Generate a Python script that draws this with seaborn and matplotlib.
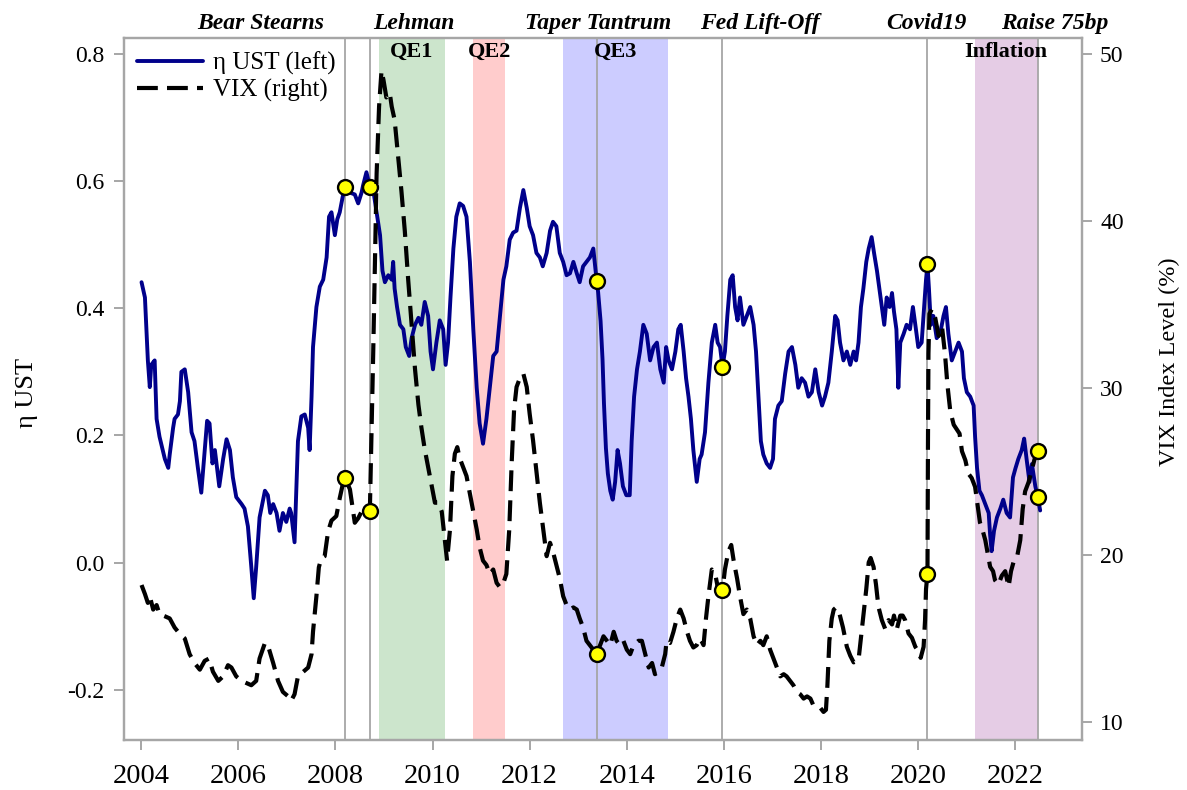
import matplotlib
matplotlib.use('Agg')
import matplotlib.pyplot as plt
import matplotlib.transforms as mtransforms
from matplotlib.lines import Line2D
import seaborn as sns

# eta UST (left axis)
ust_t = [2004.01, 2004.08, 2004.14, 2004.18, 2004.21, 2004.28, 2004.32, 2004.38, 2004.49, 2004.56,
         2004.59, 2004.66, 2004.69, 2004.76, 2004.80, 2004.83, 2004.90, 2004.97, 2005.04, 2005.10,
         2005.17, 2005.24, 2005.31, 2005.36, 2005.41, 2005.47, 2005.52, 2005.61, 2005.69, 2005.76,
         2005.83, 2005.89, 2005.96, 2006.07, 2006.13, 2006.20, 2006.27, 2006.32, 2006.37, 2006.44,
         2006.55, 2006.61, 2006.66, 2006.72, 2006.79, 2006.85, 2006.92, 2006.99, 2007.06, 2007.09,
         2007.16, 2007.20, 2007.23, 2007.30, 2007.37, 2007.44, 2007.47, 2007.51, 2007.54, 2007.61,
         2007.68, 2007.75, 2007.82, 2007.87, 2007.92, 2007.99, 2008.04, 2008.09, 2008.15, 2008.20,
         2008.30, 2008.40, 2008.47, 2008.54, 2008.57, 2008.64, 2008.71, 2008.78, 2008.85, 2008.92,
         2008.97, 2009.02, 2009.09, 2009.16, 2009.19, 2009.22, 2009.27, 2009.33, 2009.40, 2009.45,
         2009.52, 2009.57, 2009.64, 2009.71, 2009.77, 2009.84, 2009.91, 2009.96, 2010.01, 2010.08,
         2010.15, 2010.22, 2010.27, 2010.32, 2010.37, 2010.43, 2010.49, 2010.56, 2010.63, 2010.70,
         2010.77, 2010.84, 2010.91, 2010.97, 2011.04, 2011.11, 2011.18, 2011.25, 2011.32, 2011.39,
         2011.46, 2011.52, 2011.59, 2011.66, 2011.73, 2011.80, 2011.87, 2011.94, 2012.00, 2012.07,
         2012.14, 2012.21, 2012.27, 2012.35, 2012.42, 2012.48, 2012.55, 2012.62, 2012.69, 2012.76,
         2012.83, 2012.90, 2012.97, 2013.03, 2013.10, 2013.17, 2013.24, 2013.31, 2013.38, 2013.41,
         2013.46, 2013.50, 2013.53, 2013.57, 2013.61, 2013.66, 2013.71, 2013.76, 2013.81, 2013.86,
         2013.92, 2013.99, 2014.06, 2014.10, 2014.15, 2014.21, 2014.27, 2014.34, 2014.41, 2014.48,
         2014.55, 2014.62, 2014.69, 2014.76, 2014.81, 2014.86, 2014.93, 2015.00, 2015.06, 2015.11,
         2015.17, 2015.22, 2015.27, 2015.32, 2015.37, 2015.44, 2015.50, 2015.54, 2015.61, 2015.68,
         2015.75, 2015.82, 2015.87, 2015.92, 2015.97, 2016.02, 2016.07, 2016.13, 2016.18, 2016.23,
         2016.28, 2016.33, 2016.40, 2016.47, 2016.54, 2016.61, 2016.66, 2016.71, 2016.76, 2016.81,
         2016.88, 2016.95, 2017.01, 2017.05, 2017.12, 2017.19, 2017.26, 2017.33, 2017.40, 2017.47,
         2017.53, 2017.60, 2017.67, 2017.74, 2017.81, 2017.88, 2017.95, 2018.02, 2018.08, 2018.15,
         2018.22, 2018.29, 2018.34, 2018.39, 2018.46, 2018.53, 2018.60, 2018.67, 2018.72, 2018.77,
         2018.82, 2018.87, 2018.93, 2018.98, 2019.04, 2019.09, 2019.15, 2019.20, 2019.25, 2019.30,
         2019.35, 2019.41, 2019.46, 2019.50, 2019.55, 2019.59, 2019.63, 2019.70, 2019.76, 2019.83,
         2019.89, 2019.94, 2020.00, 2020.07, 2020.12, 2020.16, 2020.19, 2020.22, 2020.26, 2020.31,
         2020.38, 2020.45, 2020.52, 2020.57, 2020.62, 2020.69, 2020.76, 2020.83, 2020.90, 2020.94,
         2021.00, 2021.07, 2021.14, 2021.17, 2021.21, 2021.26, 2021.31, 2021.38, 2021.45, 2021.48,
         2021.51, 2021.56, 2021.62, 2021.69, 2021.75, 2021.82, 2021.89, 2021.95, 2022.00, 2022.06,
         2022.13, 2022.18, 2022.23, 2022.29, 2022.34, 2022.41, 2022.46, 2022.51]
ust_v = [0.441, 0.417, 0.318, 0.276, 0.311, 0.318, 0.226, 0.198, 0.163, 0.149,
         0.170, 0.212, 0.226, 0.233, 0.254, 0.300, 0.304, 0.268, 0.205, 0.191,
         0.149, 0.110, 0.177, 0.223, 0.219, 0.156, 0.177, 0.120, 0.163, 0.194,
         0.177, 0.134, 0.103, 0.092, 0.085, 0.057, -0.007, -0.056, -0.007, 0.071,
         0.113, 0.106, 0.078, 0.092, 0.078, 0.050, 0.078, 0.064, 0.085, 0.078,
         0.032, 0.120, 0.191, 0.230, 0.233, 0.212, 0.177, 0.261, 0.339, 0.402,
         0.434, 0.445, 0.480, 0.544, 0.551, 0.515, 0.540, 0.551, 0.575, 0.591,
         0.582, 0.579, 0.565, 0.582, 0.593, 0.614, 0.591, 0.586, 0.551, 0.515,
         0.459, 0.441, 0.452, 0.445, 0.473, 0.431, 0.402, 0.374, 0.367, 0.339,
         0.325, 0.353, 0.374, 0.385, 0.374, 0.410, 0.388, 0.332, 0.304, 0.346,
         0.381, 0.367, 0.311, 0.346, 0.417, 0.494, 0.544, 0.565, 0.561, 0.544,
         0.473, 0.367, 0.275, 0.219, 0.187, 0.226, 0.275, 0.325, 0.332, 0.388,
         0.445, 0.466, 0.508, 0.519, 0.522, 0.558, 0.586, 0.558, 0.529, 0.515,
         0.487, 0.480, 0.466, 0.487, 0.522, 0.536, 0.529, 0.487, 0.473, 0.452,
         0.455, 0.473, 0.455, 0.441, 0.466, 0.473, 0.480, 0.494, 0.443, 0.425,
         0.380, 0.320, 0.250, 0.180, 0.140, 0.113, 0.099, 0.127, 0.177, 0.156,
         0.120, 0.106, 0.106, 0.191, 0.261, 0.304, 0.332, 0.374, 0.360, 0.318,
         0.339, 0.346, 0.304, 0.283, 0.339, 0.318, 0.304, 0.332, 0.367, 0.374,
         0.332, 0.290, 0.261, 0.226, 0.177, 0.127, 0.163, 0.170, 0.205, 0.283,
         0.346, 0.374, 0.346, 0.339, 0.308, 0.332, 0.388, 0.445, 0.452, 0.402,
         0.381, 0.417, 0.374, 0.388, 0.402, 0.374, 0.332, 0.261, 0.191, 0.170,
         0.156, 0.149, 0.163, 0.226, 0.247, 0.254, 0.297, 0.332, 0.339, 0.311,
         0.275, 0.290, 0.283, 0.261, 0.268, 0.304, 0.268, 0.247, 0.261, 0.283,
         0.332, 0.388, 0.381, 0.346, 0.318, 0.332, 0.311, 0.332, 0.318, 0.346,
         0.402, 0.431, 0.473, 0.494, 0.512, 0.487, 0.459, 0.431, 0.402, 0.374,
         0.417, 0.402, 0.424, 0.395, 0.367, 0.275, 0.346, 0.360, 0.374, 0.367,
         0.402, 0.374, 0.339, 0.346, 0.402, 0.445, 0.469, 0.431, 0.374, 0.388,
         0.353, 0.360, 0.388, 0.402, 0.360, 0.318, 0.332, 0.346, 0.332, 0.290,
         0.268, 0.261, 0.247, 0.198, 0.149, 0.113, 0.106, 0.092, 0.078, 0.043,
         0.018, 0.050, 0.071, 0.085, 0.099, 0.078, 0.071, 0.134, 0.148, 0.163,
         0.177, 0.195, 0.163, 0.127, 0.155, 0.120, 0.103, 0.082]

# VIX index level (right axis)
vix_t = [2004.01, 2004.08, 2004.14, 2004.18, 2004.25, 2004.32, 2004.38, 2004.49, 2004.59, 2004.69,
         2004.80, 2004.90, 2005.00, 2005.10, 2005.21, 2005.31, 2005.40, 2005.48, 2005.59, 2005.69,
         2005.79, 2005.86, 2005.96, 2006.07, 2006.17, 2006.27, 2006.37, 2006.44, 2006.55, 2006.61,
         2006.72, 2006.82, 2006.92, 2007.03, 2007.09, 2007.16, 2007.23, 2007.34, 2007.44, 2007.51,
         2007.54, 2007.61, 2007.66, 2007.71, 2007.78, 2007.85, 2007.92, 2008.02, 2008.09, 2008.15,
         2008.20, 2008.30, 2008.40, 2008.47, 2008.54, 2008.64, 2008.71, 2008.78, 2008.85, 2008.90,
         2008.95, 2008.99, 2009.05, 2009.12, 2009.16, 2009.22, 2009.29, 2009.36, 2009.43, 2009.50,
         2009.57, 2009.64, 2009.71, 2009.77, 2009.84, 2009.91, 2009.98, 2010.05, 2010.12, 2010.19,
         2010.25, 2010.30, 2010.36, 2010.41, 2010.46, 2010.51, 2010.56, 2010.63, 2010.70, 2010.77,
         2010.84, 2010.91, 2010.97, 2011.04, 2011.11, 2011.18, 2011.25, 2011.32, 2011.39, 2011.46,
         2011.52, 2011.58, 2011.63, 2011.68, 2011.73, 2011.80, 2011.87, 2011.94, 2012.00, 2012.07,
         2012.14, 2012.21, 2012.28, 2012.35, 2012.42, 2012.48, 2012.55, 2012.62, 2012.69, 2012.76,
         2012.83, 2012.90, 2012.97, 2013.03, 2013.10, 2013.17, 2013.24, 2013.31, 2013.38, 2013.52,
         2013.59, 2013.66, 2013.73, 2013.79, 2013.86, 2013.93, 2014.00, 2014.07, 2014.14, 2014.24,
         2014.31, 2014.38, 2014.45, 2014.52, 2014.58, 2014.65, 2014.72, 2014.79, 2014.82, 2014.89,
         2014.96, 2015.03, 2015.10, 2015.17, 2015.24, 2015.30, 2015.37, 2015.44, 2015.51, 2015.58,
         2015.63, 2015.68, 2015.75, 2015.82, 2015.89, 2015.97, 2016.02, 2016.09, 2016.15, 2016.20,
         2016.27, 2016.33, 2016.40, 2016.47, 2016.54, 2016.61, 2016.68, 2016.75, 2016.81, 2016.88,
         2016.95, 2017.02, 2017.09, 2017.16, 2017.23, 2017.29, 2017.36, 2017.43, 2017.50, 2017.57,
         2017.64, 2017.71, 2017.78, 2017.84, 2017.91, 2017.98, 2018.05, 2018.10, 2018.13, 2018.17,
         2018.22, 2018.26, 2018.31, 2018.38, 2018.45, 2018.53, 2018.60, 2018.67, 2018.77, 2018.82,
         2018.87, 2018.93, 2018.98, 2019.02, 2019.08, 2019.13, 2019.18, 2019.25, 2019.32, 2019.39,
         2019.46, 2019.50, 2019.56, 2019.63, 2019.68, 2019.73, 2019.80, 2019.87, 2019.94, 2020.00,
         2020.05, 2020.11, 2020.14, 2020.16, 2020.19, 2020.20, 2020.21, 2020.23, 2020.28, 2020.35,
         2020.42, 2020.49, 2020.55, 2020.60, 2020.66, 2020.73, 2020.79, 2020.85, 2020.90, 2020.97,
         2021.03, 2021.10, 2021.17, 2021.22, 2021.27, 2021.33, 2021.38, 2021.43, 2021.48, 2021.54,
         2021.58, 2021.65, 2021.72, 2021.79, 2021.86, 2021.91, 2021.96, 2022.03, 2022.10, 2022.15,
         2022.20, 2022.27, 2022.34, 2022.41, 2022.455]
vix_v = [18.19, 17.65, 17.12, 17.52, 16.72, 16.99, 16.45, 16.32, 16.19, 15.65,
         15.25, 14.99, 14.05, 13.52, 13.12, 13.65, 13.79, 13.00, 12.45, 12.72,
         13.39, 13.25, 12.72, 12.45, 12.32, 12.19, 12.45, 13.79, 14.72, 14.59,
         13.52, 12.45, 11.79, 11.52, 11.25, 11.65, 12.72, 13.00, 13.25, 14.05,
         15.39, 17.52, 19.25, 19.79, 19.92, 21.39, 22.05, 22.32, 23.39, 24.19,
         24.60, 23.92, 21.92, 22.19, 22.59, 22.40, 22.59, 32.19, 42.85, 46.85,
         48.99, 48.45, 47.39, 47.65, 46.85, 46.05, 43.92, 41.79, 39.39, 36.45,
         33.79, 31.12, 28.99, 27.65, 26.32, 25.25, 24.19, 23.12, 23.12, 22.59,
         20.99, 19.65, 21.52, 24.72, 26.05, 26.45, 25.79, 25.25, 24.72, 23.65,
         22.59, 21.52, 20.45, 19.65, 19.39, 18.85, 19.12, 18.32, 18.05, 18.32,
         18.85, 21.52, 25.52, 28.72, 30.05, 30.59, 30.85, 30.05, 28.45, 26.85,
         24.99, 23.12, 21.52, 19.92, 20.72, 20.19, 19.39, 18.59, 17.52, 16.99,
         16.72, 16.85, 16.72, 16.19, 15.65, 14.85, 14.59, 14.32, 14.05, 15.12,
         14.85, 14.59, 15.39, 14.85, 14.59, 14.85, 14.32, 14.05, 14.59, 14.85,
         14.85, 14.05, 13.25, 13.52, 12.85, 12.99, 13.25, 14.05, 14.85, 14.72,
         15.39, 16.19, 16.72, 16.19, 15.39, 14.85, 14.45, 14.59, 14.99, 14.59,
         16.19, 17.52, 19.12, 18.85, 17.79, 17.87, 19.12, 20.19, 20.59, 19.65,
         18.59, 17.52, 16.45, 16.72, 16.19, 15.12, 14.59, 14.85, 14.59, 15.12,
         14.32, 13.79, 13.25, 12.72, 12.85, 12.72, 12.45, 12.19, 11.79, 11.65,
         11.39, 11.52, 11.39, 10.99, 10.99, 10.85, 10.59, 10.72, 12.19, 14.85,
         16.19, 16.72, 16.85, 16.45, 15.65, 14.49, 13.96, 13.56, 13.69, 15.03,
         16.36, 17.95, 19.55, 19.81, 19.28, 18.22, 16.89, 16.09, 15.56, 16.09,
         15.83, 16.36, 15.56, 16.36, 16.36, 16.09, 15.29, 15.03, 14.49, 14.23,
         13.83, 14.49, 16.09, 17.95, 18.88, 26.73, 32.05, 34.44, 34.71, 34.18,
         33.11, 33.64, 32.05, 30.19, 28.59, 27.79, 27.53, 27.26, 26.20, 25.66,
         24.87, 24.60, 24.07, 23.00, 21.94, 21.41, 20.88, 20.08, 19.28, 19.02,
         18.48, 18.22, 18.75, 19.02, 18.09, 19.02, 19.55, 19.81, 20.88, 22.74,
         23.80, 24.34, 25.13, 25.90, 26.20]

# events: vertical lines and yellow markers
event_names = ['Bear Stearns', 'Lehman', 'Taper Tantrum', 'Fed Lift-Off', 'Covid19', 'Raise 75bp']
event_dates = [2008.20, 2008.71, 2013.38, 2015.97, 2020.19, 2022.455]
event_ust = [0.590, 0.590, 0.443, 0.308, 0.469, 0.103]
event_vix = [24.6, 22.6, 14.05, 17.87, 18.88, 26.2]
event_label_x = [2006.46, 2009.62, 2013.40, 2016.74, 2020.17, 2022.80]

# shaded policy periods
period_names = ['QE1', 'QE2', 'QE3', 'Inflation']
period_start = [2008.89, 2010.84, 2012.69, 2021.16]
period_end = [2010.26, 2011.50, 2014.84, 2022.46]
period_colors = ['green', 'red', 'blue', 'purple']

sns.set_style('ticks')
plt.rcParams['font.family'] = ['Liberation Serif', 'DejaVu Serif']
plt.rcParams['axes.unicode_minus'] = False
plt.rcParams['text.color'] = 'black'
plt.rcParams['axes.labelcolor'] = 'black'

GRAY = '#a6a6a6'
NAVY = '#00008B'

fig = plt.figure(figsize=(11.87, 7.90), dpi=100)
ax = fig.add_axes([0.1041, 0.0633, 0.8074, 0.8890])
ax2 = ax.twinx()

for s, e, c in zip(period_start, period_end, period_colors):
    ax.axvspan(s, e, color=c, alpha=0.2, lw=0, zorder=0)
for d in event_dates:
    ax.axvline(d, color=GRAY, lw=1.3, zorder=1)

sns.lineplot(x=ust_t, y=ust_v, ax=ax, color=NAVY, lw=2.8, estimator=None, sort=False, zorder=3)
sns.lineplot(x=vix_t, y=vix_v, ax=ax2, color='black', lw=3.0, estimator=None, sort=False, zorder=3)
ax2.lines[-1].set_dashes([5.0, 2.2])

sns.scatterplot(x=event_dates, y=event_ust, ax=ax, color='yellow', edgecolor='black',
                s=115, linewidth=1.7, zorder=5)
sns.scatterplot(x=event_dates, y=event_vix, ax=ax2, color='yellow', edgecolor='black',
                s=115, linewidth=1.7, zorder=5)

ax.set_xlim(2003.64, 2023.37)
ax.set_ylim(-0.279, 0.8256)
ax2.set_ylim(8.91, 50.97)
ax.set_xticks(range(2004, 2023, 2))
ax.set_yticks([-0.2, 0.0, 0.2, 0.4, 0.6, 0.8])
ax.yaxis.set_major_formatter('{x:.1f}')
ax2.set_yticks([10, 20, 30, 40, 50])

for a in (ax, ax2):
    for sp in a.spines.values():
        sp.set_visible(True)
        sp.set_color(GRAY)
        sp.set_linewidth(1.6)
ax.tick_params(axis='both', direction='out', color=GRAY, length=7.5, width=1.4,
               labelcolor='black')
ax.tick_params(axis='x', labelsize=20.5, pad=10)
ax.tick_params(axis='y', labelsize=17, pad=6.5)
ax2.tick_params(axis='y', direction='out', color=GRAY, length=7.5, width=1.4,
                labelcolor='black', labelsize=17, pad=5.5)

ax.set_ylabel('η UST', fontsize=19, color='black')
ax.yaxis.label.set(rotation_mode='default', ha='center', va='center')
ax.yaxis.set_label_coords(-0.1008, 0.494)
ax2.set_ylabel('VIX Index Level (%)', fontsize=17.5, color='black')
ax2.yaxis.label.set(rotation_mode='default', ha='center', va='center')
ax2.yaxis.set_label_coords(1.0910, 0.538)

# period names inside the plot
top_in = mtransforms.blended_transform_factory(ax.transData, ax.transAxes)
for name, s, e in zip(period_names, period_start, period_end):
    ax.text((s + e) / 2, 0.980, name, transform=top_in, ha='center', va='center',
            fontsize=16, fontweight='bold', color='black', zorder=6)

# event names above the plot
top_out = mtransforms.blended_transform_factory(ax.transData, fig.transFigure)
for name, x in zip(event_names, event_label_x):
    ax.text(x, 0.9633, name, transform=top_out, ha='center', va='baseline', color='black',
            fontsize=17, fontweight='bold', fontstyle='italic', clip_on=False)

handles = [Line2D([], [], color=NAVY, lw=2.8),
           Line2D([], [], color='black', lw=3.0, dashes=[5.0, 2.2])]
ax2.legend(handles, ['η UST (left)', 'VIX (right)'], loc='upper left',
           bbox_to_anchor=(0.0137, 0.9796), borderaxespad=0, borderpad=0,
           frameon=False, fontsize=18, handlelength=2.64, handletextpad=0.42,
           labelspacing=0.15, labelcolor='black')

fig.savefig('out.png', dpi=100, facecolor='white')
